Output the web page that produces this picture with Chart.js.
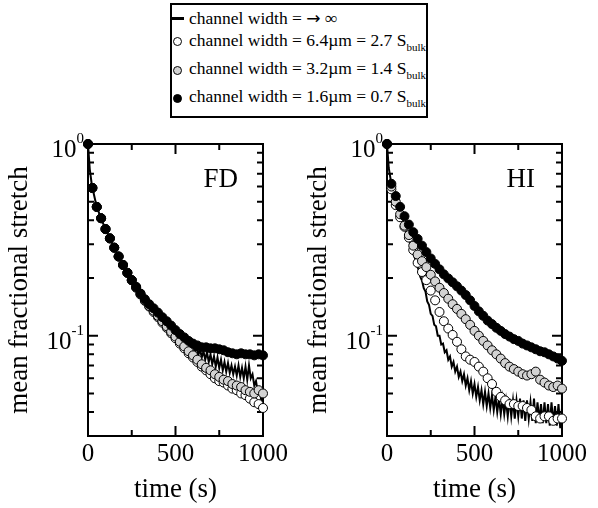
<!DOCTYPE html>
<html>
<head>
<meta charset="utf-8">
<script src="https://cdn.jsdelivr.net/npm/chart.js@4/dist/chart.umd.min.js"></script>
<style>
  html, body { margin:0; padding:0; background:#fff; }
  body { width:598px; height:508px; position:relative; overflow:hidden; font-family:"Liberation Serif", "Times New Roman", serif; color:#000; }
  #legend { position:absolute; left:170px; top:3px; width:258px; height:115px; border:2px solid #000; box-sizing:border-box; }
  .txt { position:absolute; left:189px; font-size:17.5px; line-height:20px; white-space:nowrap; color:#000; }
  .sub { font-size:11px; position:relative; top:5px; color:#000; }
  .arr { font-family:"DejaVu Sans", sans-serif; font-size:17px; }
  .lsym { position:absolute; left:171px; top:17px; width:13px; height:3px; background:#000; }
  .csym { position:absolute; width:9px; height:9px; border:1px solid #000; border-radius:50%; box-sizing:border-box; }
  canvas { position:absolute; top:130px; }
</style>
</head>
<body>
<div id="legend"></div>
<div class="lsym"></div>
<div class="csym" style="left:173px;top:37px;background:#fff"></div>
<div class="csym" style="left:173px;top:66px;background:#d3d3d3"></div>
<div class="csym" style="left:173px;top:94px;background:#000"></div>
<div class="txt" id="lg0" style="top:8px"></div>
<div class="txt" id="lg1" style="top:30px"></div>
<div class="txt" id="lg2" style="top:58px"></div>
<div class="txt" id="lg3" style="top:86px"></div>
<canvas id="cFD" width="299" height="378" style="left:0px"></canvas>
<canvas id="cHI" width="299" height="378" style="left:299px"></canvas>
<script>
// ---------- data ----------
const legendLabels = [
  'channel width = <span class="arr">\u2192</span> \u221E',
  'channel width = 6.4\u00B5m = 2.7 S<span class="sub">bulk</span>',
  'channel width = 3.2\u00B5m = 1.4 S<span class="sub">bulk</span>',
  'channel width = 1.6\u00B5m = 0.7 S<span class="sub">bulk</span>'
];
const panelLabels = ['FD', 'HI'];
const xTitle = 'time (s)';
const yTitle = 'mean fractional stretch';
const xTickValues = [0, 500, 1000];
const xMinorTicks = [250, 750];
const yMajorTicks = [1, 0.1];
const yTickBase = ['10', '10'];
const yTickExp = ['0', '-1'];
const yMinorTicks = [0.04, 0.05, 0.06, 0.07, 0.08, 0.09, 0.2, 0.3, 0.4, 0.5, 0.6, 0.7, 0.8, 0.9];

const timeMarkers = [0,25,50,75,100,125,150,175,200,225,250,275,300,325,350,375,400,425,450,475,500,
  525,550,575,600,625,650,675,700,725,750,775,800,825,850,875,900,925,950,975,1000];
const timeLine = [0,10,20,30,40,50,60,70,80,90,100,110,120,130,140,150,160,170,180,190,200,
  210,220,230,240,250,260,270,280,290,300,310,320,330,340,350,360,370,380,390,400,
  410,420,430,440,450,460,470,480,490,500,510,520,530,540,550,560,570,580,590,600,
  610,620,630,640,650,660,670,680,690,700,710,720,730,740,750,760,770,780,790,800,
  810,820,830,840,850,860,870,880,890,900,910,920,930,940,950,960,970,980,990,1000];

// FD panel
const fdInfinite = [1.0,0.74,0.63,0.565,0.515,0.47,0.445,0.418,0.40,0.378,0.362,0.343,0.331,0.313,0.301,0.286,0.276,0.262,0.254,0.241,0.234,
  0.223,0.217,0.206,0.202,0.192,0.189,0.180,0.178,0.170,0.167,0.159,0.157,0.150,0.149,0.142,0.141,0.135,0.135,0.129,0.129,
  0.123,0.123,0.117,0.118,0.111,0.112,0.106,0.108,0.101,0.104,0.098,0.101,0.095,0.098,0.092,0.095,0.088,0.093,0.085,0.090,
  0.082,0.087,0.079,0.085,0.077,0.083,0.075,0.082,0.073,0.080,0.071,0.078,0.069,0.077,0.068,0.075,0.066,0.073,0.065,0.072,
  0.064,0.070,0.063,0.069,0.062,0.070,0.061,0.068,0.060,0.069,0.059,0.070,0.060,0.063,0.055,0.058,0.051,0.053,0.046,0.048];
const fdWide = [1.0,0.59,0.47,0.41,0.36,0.322,0.288,0.259,0.234,0.213,0.195,0.178,0.164,0.152,0.142,0.133,0.125,0.117,0.110,0.103,0.097,
  0.091,0.086,0.081,0.077,0.073,0.069,0.066,0.063,0.060,0.058,0.057,0.055,0.053,0.052,0.050,0.049,0.047,0.045,0.044,0.042];
const fdMedium = [1.0,0.59,0.47,0.41,0.36,0.322,0.288,0.259,0.234,0.213,0.195,0.179,0.165,0.153,0.143,0.135,0.127,0.119,0.112,0.105,0.099,
  0.093,0.088,0.083,0.079,0.075,0.071,0.068,0.066,0.063,0.061,0.059,0.058,0.056,0.055,0.054,0.052,0.051,0.050,0.052,0.050];
const fdNarrow = [1.0,0.59,0.47,0.41,0.36,0.322,0.288,0.259,0.234,0.213,0.195,0.180,0.166,0.155,0.146,0.139,0.132,0.125,0.119,0.113,0.107,
  0.102,0.098,0.094,0.091,0.089,0.087,0.087,0.086,0.086,0.085,0.084,0.082,0.081,0.080,0.081,0.080,0.080,0.079,0.080,0.079];

// HI panel
const hiInfinite = [1.0,0.75,0.66,0.60,0.55,0.51,0.476,0.444,0.42,0.392,0.372,0.348,0.331,0.308,0.293,0.268,0.254,0.233,0.222,0.203,0.194,
  0.177,0.170,0.151,0.145,0.130,0.127,0.114,0.112,0.100,0.100,0.090,0.091,0.082,0.084,0.075,0.078,0.069,0.073,0.065,0.069,
  0.061,0.065,0.058,0.063,0.055,0.060,0.052,0.058,0.050,0.056,0.048,0.054,0.046,0.052,0.044,0.051,0.043,0.050,0.042,0.049,
  0.041,0.048,0.040,0.047,0.039,0.047,0.039,0.046,0.038,0.047,0.038,0.046,0.037,0.046,0.038,0.047,0.037,0.046,0.036,0.046,
  0.037,0.045,0.036,0.047,0.035,0.045,0.036,0.044,0.035,0.045,0.035,0.044,0.034,0.045,0.035,0.043,0.034,0.044,0.033,0.042];
const hiWide = [1.0,0.58,0.48,0.415,0.37,0.325,0.28,0.24,0.215,0.195,0.172,0.153,0.133,0.119,0.109,0.101,0.093,0.085,0.078,0.075,0.073,
  0.069,0.065,0.060,0.056,0.051,0.048,0.046,0.044,0.044,0.043,0.043,0.042,0.041,0.038,0.037,0.038,0.038,0.036,0.037,0.037];
const hiMedium = [1.0,0.60,0.50,0.43,0.375,0.335,0.295,0.265,0.245,0.228,0.208,0.192,0.178,0.167,0.156,0.146,0.138,0.130,0.122,0.114,0.106,
  0.100,0.094,0.089,0.084,0.080,0.076,0.072,0.069,0.067,0.065,0.063,0.062,0.063,0.065,0.059,0.057,0.055,0.054,0.055,0.053];
const hiNarrow = [1.0,0.62,0.535,0.47,0.42,0.38,0.347,0.32,0.295,0.273,0.253,0.237,0.222,0.209,0.199,0.19,0.181,0.172,0.163,0.153,0.143,
  0.134,0.127,0.120,0.115,0.110,0.106,0.102,0.099,0.096,0.094,0.091,0.089,0.087,0.085,0.083,0.082,0.080,0.078,0.076,0.074];

// ---------- legend ----------
legendLabels.forEach((t, i) => { document.getElementById('lg' + i).innerHTML = t; });

// ---------- chart ----------
const FONT = '"Liberation Serif", "Times New Roman", serif';
const pts = (xs, ys) => xs.map((x, i) => ({ x: x, y: ys[i] }));

const framePlugin = {
  id: 'frame',
  beforeDatasetsDraw(chart, args, opts) {
    const { ctx, chartArea: a, scales } = chart;
    const xs = scales.x, ys = scales.y;
    ctx.save();
    ctx.strokeStyle = '#000';
    ctx.lineWidth = 2;
    ctx.strokeRect(a.left, a.top, a.right - a.left, a.bottom - a.top);
    ctx.beginPath();
    const xt = (v, len) => {
      const p = xs.getPixelForValue(v);
      ctx.moveTo(p, a.bottom); ctx.lineTo(p, a.bottom - len);
      ctx.moveTo(p, a.top); ctx.lineTo(p, a.top + len);
    };
    const yt = (v, len) => {
      const p = ys.getPixelForValue(v);
      ctx.moveTo(a.left, p); ctx.lineTo(a.left + len, p);
      ctx.moveTo(a.right, p); ctx.lineTo(a.right - len, p);
    };
    xTickValues.forEach(v => xt(v, 10));
    xMinorTicks.forEach(v => xt(v, 6));
    yMajorTicks.forEach(v => yt(v, 10));
    yMinorTicks.forEach(v => yt(v, 6));
    ctx.stroke();
    // y tick labels with superscript exponents
    ctx.fillStyle = '#000';
    ctx.textAlign = 'right';
    ctx.textBaseline = 'alphabetic';
    yMajorTicks.forEach((v, i) => {
      const p = ys.getPixelForValue(v);
      const right = a.left - 4;
      ctx.font = '15px ' + FONT;
      const w = ctx.measureText(yTickExp[i]).width;
      ctx.fillText(yTickExp[i], right, p - 1);
      ctx.font = '25px ' + FONT;
      ctx.fillText(yTickBase[i], right - w, p + 13);
    });
    // panel label
    ctx.font = '27px ' + FONT;
    ctx.textAlign = 'right';
    ctx.fillText(opts.label, a.right - opts.dx, a.top + 43);
    ctx.restore();
  }
};

function makeChart(id, label, dx, lineVals, wideVals, mediumVals, narrowVals) {
  return new Chart(document.getElementById(id), {
    type: 'line',
    data: {
      datasets: [
        { label: 'channel width = 1.6\u00B5m', data: pts(timeMarkers, narrowVals), showLine: false,
          pointRadius: 4.5, pointBackgroundColor: '#000', pointBorderColor: '#000', pointBorderWidth: 1, order: 0, clip: false },
        { label: 'channel width = 3.2\u00B5m', data: pts(timeMarkers, mediumVals), showLine: false,
          pointRadius: 4.5, pointBackgroundColor: '#d3d3d3', pointBorderColor: '#000', pointBorderWidth: 1, order: 1, clip: false },
        { label: 'channel width = 6.4\u00B5m', data: pts(timeMarkers, wideVals), showLine: false,
          pointRadius: 4.5, pointBackgroundColor: '#fff', pointBorderColor: '#000', pointBorderWidth: 1, order: 2, clip: false },
        { label: 'channel width = \u221E', data: pts(timeLine, lineVals), borderColor: '#000', borderWidth: 2,
          pointRadius: 0, tension: 0, order: 3, fill: false }
      ]
    },
    options: {
      responsive: false,
      animation: false,
      devicePixelRatio: 1,
      events: [],
      layout: { padding: { left: 0, right: 36, top: 14, bottom: 0 } },
      plugins: { legend: { display: false }, tooltip: { enabled: false }, frame: { label: label, dx: dx } },
      scales: {
        x: {
          type: 'linear', position: 'bottom', min: 0, max: 1000,
          grid: { display: false }, border: { display: false },
          afterBuildTicks: s => { s.ticks = xTickValues.map(v => ({ value: v })); },
          ticks: { color: '#000', font: { family: FONT, size: 25 }, padding: -5, maxRotation: 0, autoSkip: false,
                   callback: v => String(v) },
          title: { display: true, text: xTitle, color: '#000', font: { family: FONT, size: 27 }, padding: { top: 0, bottom: 2 } },
          afterFit: s => { s.height = 72; }
        },
        y: {
          type: 'logarithmic', position: 'left', min: 0.03, max: 1,
          grid: { display: false }, border: { display: false },
          ticks: { display: false },
          title: { display: true, text: yTitle, color: '#000', font: { family: FONT, size: 27 }, padding: { top: 4, bottom: 0 } },
          afterFit: s => { s.width = 88; }
        }
      }
    },
    plugins: [framePlugin]
  });
}

function drawAll() {
  makeChart('cFD', panelLabels[0], 25, fdInfinite, fdWide, fdMedium, fdNarrow);
  makeChart('cHI', panelLabels[1], 27, hiInfinite, hiWide, hiMedium, hiNarrow);
}
if (document.fonts && document.fonts.load) {
  Promise.all([document.fonts.load('27px "Liberation Serif"'), document.fonts.load('15px "Liberation Serif"')])
    .then(drawAll, drawAll);
} else { drawAll(); }
</script>
</body>
</html>
